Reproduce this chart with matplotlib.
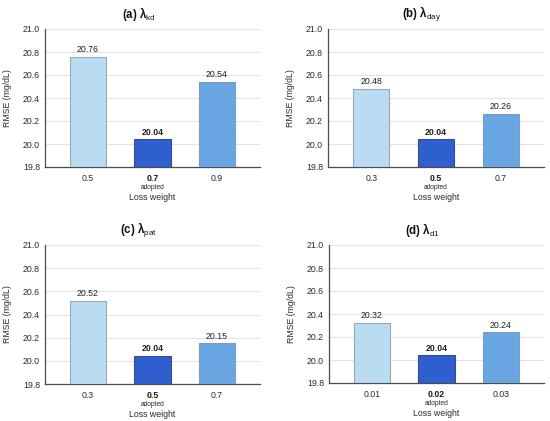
import matplotlib
matplotlib.use("Agg")
import matplotlib.pyplot as plt
import matplotlib.transforms as mtransforms

plt.rcParams['font.family'] = ['Liberation Sans', 'DejaVu Sans']
plt.rcParams['mathtext.fontset'] = 'custom'
plt.rcParams['mathtext.rm'] = 'Liberation Sans'
plt.rcParams['mathtext.bf'] = 'Liberation Sans:bold'
plt.rcParams['mathtext.it'] = 'Liberation Sans:italic'

# data
titles = [r"$\mathbf{(a)\ λ}_{\mathrm{kd}}$", r"$\mathbf{(b)\ λ}_{\mathrm{day}}$",
          r"$\mathbf{(c)\ λ}_{\mathrm{pat}}$", r"$\mathbf{(d)\ λ}_{\mathrm{d1}}$"]
weights_a = ["0.5", "0.7", "0.9"]
weights_b = ["0.3", "0.5", "0.7"]
weights_c = ["0.3", "0.5", "0.7"]
weights_d = ["0.01", "0.02", "0.03"]
rmse_a = [20.76, 20.04, 20.54]
rmse_b = [20.48, 20.04, 20.26]
rmse_c = [20.52, 20.04, 20.15]
rmse_d = [20.32, 20.04, 20.24]
adopted_idx = 1

panels = [(weights_a, rmse_a), (weights_b, rmse_b), (weights_c, rmse_c), (weights_d, rmse_d)]

colors = ["#B9DCF3", "#2F5FCF", "#6AA6E3"]
edges = ["#9AA6B2", "#3A4E8A", "#7C9CC0"]

fig = plt.figure(figsize=(5.5, 4.21), dpi=100)
W, H = 550, 421
# axes boxes in pixels: left, top, right, bottom
boxes = [(45, 29, 260, 167), (328, 29, 544, 167),
         (45, 245, 260, 384), (329, 245, 544, 383)]

for (labels, vals), title, (l, t, r, b) in zip(panels, titles, boxes):
    ax = fig.add_axes([l / W, (H - b) / H, (r - l) / W, (b - t) / H])
    x = list(range(len(labels)))
    bars = ax.bar(x, [v - 19.8 for v in vals], bottom=19.8, width=0.56,
                  color=colors, edgecolor=edges, linewidth=0.8, zorder=3)
    ax.set_ylim(19.8, 21.0)
    ax.set_xlim(-0.667, 2.667)
    ax.set_yticks([19.8, 20.0, 20.2, 20.4, 20.6, 20.8, 21.0])
    ax.set_yticklabels(["19.8", "20.0", "20.2", "20.4", "20.6", "20.8", "21.0"])
    ax.grid(axis='y', color='#E4E4E4', linewidth=0.8, zorder=0)
    ax.set_axisbelow(True)
    for s in ['top', 'right']:
        ax.spines[s].set_visible(False)
    ax.spines['left'].set_color('#4D4D4D')
    ax.spines['bottom'].set_color('#4D4D4D')
    ax.spines['left'].set_linewidth(0.9)
    ax.spines['bottom'].set_linewidth(0.9)
    ax.tick_params(axis='both', length=0, labelsize=6.3, colors='#2B2B2B')
    ax.tick_params(axis='x', pad=5)
    ax.tick_params(axis='y', pad=3.6)
    ax.set_xticks(x)
    ax.set_xticklabels(labels)
    ax.get_xticklabels()[adopted_idx].set_fontweight('bold')
    ax.get_xticklabels()[adopted_idx].set_color('#1A1A1A')
    for i, (bar, v) in enumerate(zip(bars, vals)):
        ax.text(bar.get_x() + bar.get_width() / 2, v + 0.025, f"{v:.2f}",
                ha='center', va='bottom', fontsize=6.3, color='#1F1F1F',
                fontweight='bold' if i == adopted_idx else 'normal')
    trans = mtransforms.blended_transform_factory(ax.transData, ax.transAxes)
    ax.text(adopted_idx, -0.145, "adopted", transform=trans, ha='center', va='center',
            fontsize=4.8, color='#2B2B2B')
    ax.set_xlabel("Loss weight", fontsize=6.3, color='#2B2B2B', labelpad=7.5)
    ax.set_ylabel("RMSE (mg/dL)", fontsize=6.3, color='#2B2B2B', labelpad=7.5)
    ax.set_title(title, fontsize=8.3, color='#111111', pad=8, x=0.435)

fig.savefig("out.png", dpi=100)
